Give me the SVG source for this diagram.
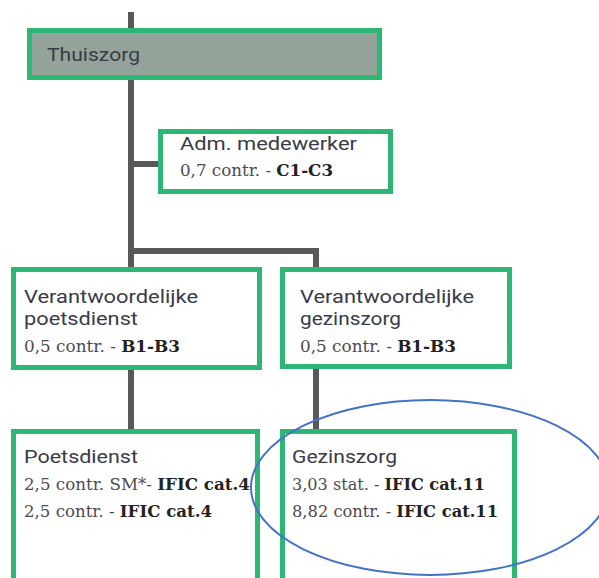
<svg xmlns="http://www.w3.org/2000/svg" width="599" height="578" viewBox="0 0 599 578">
<style>
.box{fill:#ffffff;stroke:#2db674;stroke-width:5}
.top{fill:#93a39a}
.conn{stroke:#58585a;stroke-width:6;fill:none}
.h{font-family:Roboto,"Liberation Sans",sans-serif;font-size:18px;fill:#3a3a48}
.s{font-family:"DejaVu Serif","Liberation Serif",serif;font-size:16px;fill:#4f4a50}
.b{font-weight:bold;fill:#222}
</style>
<rect width="599" height="578" fill="#ffffff"/>
<g id="connectors">
<path class="conn" d="M131 12V270M131 164H161M131 251H316V270M131 368V432M316 368V432"/>
</g>
<g id="thuiszorg">
<rect class="box top" x="29.5" y="30.5" width="350" height="47"/>
<text class="h" x="47" y="61" style="font-size:19px" textLength="93" lengthAdjust="spacingAndGlyphs">Thuiszorg</text>
</g>
<g id="adm">
<rect class="box" x="160.5" y="131.5" width="230" height="60"/>
<text class="h" x="180" y="150" textLength="177" lengthAdjust="spacingAndGlyphs">Adm. medewerker</text>
<text class="s" x="180" y="176" textLength="153" lengthAdjust="spacingAndGlyphs">0,7 contr. - <tspan class="b">C1-C3</tspan></text>
</g>
<g id="verantw-poets">
<rect class="box" x="13.5" y="269.5" width="246" height="98"/>
<text class="h" x="24" y="303" textLength="174" lengthAdjust="spacingAndGlyphs">Verantwoordelijke</text>
<text class="h" x="24" y="325" textLength="114" lengthAdjust="spacingAndGlyphs">poetsdienst</text>
<text class="s" x="24" y="352" textLength="156" lengthAdjust="spacingAndGlyphs">0,5 contr. - <tspan class="b">B1-B3</tspan></text>
</g>
<g id="verantw-gezin">
<rect class="box" x="282.5" y="269.5" width="227" height="97"/>
<text class="h" x="300" y="303" textLength="174" lengthAdjust="spacingAndGlyphs">Verantwoordelijke</text>
<text class="h" x="300" y="325" textLength="101" lengthAdjust="spacingAndGlyphs">gezinszorg</text>
<text class="s" x="300" y="352" textLength="156" lengthAdjust="spacingAndGlyphs">0,5 contr. - <tspan class="b">B1-B3</tspan></text>
</g>
<g id="poetsdienst">
<rect class="box" x="13.5" y="431.5" width="244" height="160"/>
<text class="h" x="24" y="463" textLength="114" lengthAdjust="spacingAndGlyphs">Poetsdienst</text>
<text class="s" x="24" y="490" textLength="226" lengthAdjust="spacingAndGlyphs">2,5 contr. SM*- <tspan class="b">IFIC cat.4</tspan></text>
<text class="s" x="24" y="517" textLength="188" lengthAdjust="spacingAndGlyphs">2,5 contr. - <tspan class="b">IFIC cat.4</tspan></text>
</g>
<g id="gezinszorg">
<rect class="box" x="282.5" y="431.5" width="232" height="160"/>
<text class="h" x="292" y="463" textLength="105" lengthAdjust="spacingAndGlyphs">Gezinszorg</text>
<text class="s" x="292" y="490" textLength="193" lengthAdjust="spacingAndGlyphs">3,03 stat. - <tspan class="b">IFIC cat.11</tspan></text>
<text class="s" x="292" y="517" textLength="206" lengthAdjust="spacingAndGlyphs">8,82 contr. - <tspan class="b">IFIC cat.11</tspan></text>
</g>
<g id="highlight">
<ellipse cx="430" cy="487.5" rx="179" ry="87.5" fill="none" stroke="#4472c4" stroke-width="2"/>
</g>
</svg>
